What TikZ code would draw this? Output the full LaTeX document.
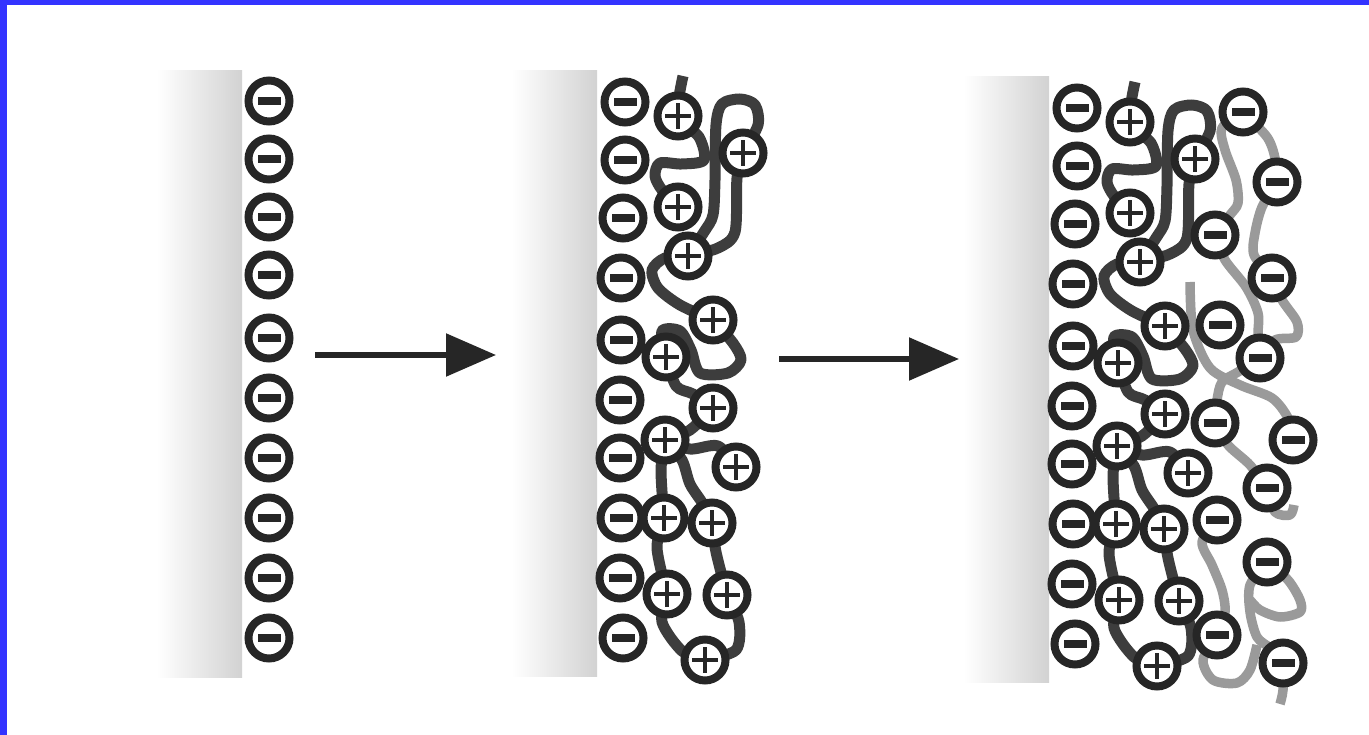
\documentclass[tikz,border=0pt]{standalone}
\usetikzlibrary{arrows.meta}
\definecolor{ink}{HTML}{262626}
\definecolor{chaindark}{HTML}{3D3D3D}
\definecolor{chainlight}{HTML}{9A9A9A}
\definecolor{frameblue}{HTML}{3333FF}
\definecolor{wallgrey}{HTML}{D2D2D2}
\pgfdeclarelayer{walls}
\pgfdeclarelayer{graychain}
\pgfdeclarelayer{darkchain}
\pgfsetlayers{walls,graychain,darkchain,main}

\tikzset{
  ring/.style={circle,draw=ink,line width=8pt,fill=white,minimum size=41pt,inner sep=0pt,outer sep=0pt},
  anion/.style={ring,path picture={\fill[ink]
      ([shift={(-11.5pt,-3.7pt)}]path picture bounding box.center) rectangle
      ([shift={(11.5pt,3.7pt)}]path picture bounding box.center);}},
  cation/.style={ring,path picture={
      \fill[ink] ([shift={(-13pt,-2.3pt)}]path picture bounding box.center) rectangle
                 ([shift={(13pt,2.3pt)}]path picture bounding box.center);
      \fill[ink] ([shift={(-2.3pt,-13pt)}]path picture bounding box.center) rectangle
                 ([shift={(2.3pt,13pt)}]path picture bounding box.center);}},
  wall/.style={left color=white,right color=wallgrey},
  darkpoly/.style={draw=chaindark,line width=11pt,line join=round},
  lightpoly/.style={draw=chainlight,line width=9.5pt,line join=round},
  bigarrow/.style={draw=ink,line width=5.5pt,-{Triangle[length=50pt,width=42pt]}},
}

% surface with its counter-ions and the adsorbed polycation (local frame of the middle panel)
\newcommand\coatedwall[1]{%
  \begin{pgfonlayer}{walls}
    \shade[wall] (512,71) rectangle (597,676);
  \end{pgfonlayer}
  \foreach \xx/\yy [count=\k] in {625/102,625/160,623/218,621/278,621/340,620/400,620/458,621/518,620/578,623/638}
    \node[anion] (#1m\k) at (\xx,\yy) {};
  \node[cation] (#1A) at (678,116) {};
  \node[cation] (#1B) at (743,153) {};
  \node[cation] (#1C) at (678,207) {};
  \node[cation] (#1D) at (688,256) {};
  \node[cation] (#1E) at (713,320) {};
  \node[cation] (#1F) at (666,357) {};
  \node[cation] (#1G) at (713,408) {};
  \node[cation] (#1H) at (665,440) {};
  \node[cation] (#1I) at (736,467) {};
  \node[cation] (#1J) at (664,518) {};
  \node[cation] (#1K) at (712,523) {};
  \node[cation] (#1L) at (667,594) {};
  \node[cation] (#1M) at (727,595) {};
  \node[cation] (#1N) at (705,660) {};
  \coordinate (#1tail) at (683,76);
  \begin{pgfonlayer}{darkchain}
    \draw[darkpoly] plot[smooth] coordinates {(#1tail) (#1A.center) (699,137) (704,160) (682,164) (660,163) (655,176) (662,190) (#1C.center)};
    \draw[darkpoly] plot[smooth] coordinates {(#1D.center) (704,232) (713,215) (715,180) (716,125) (722,104) (740,99) (755,105) (758,125) (#1B.center)};
    \draw[darkpoly] plot[smooth] coordinates {(#1B.center) (737,178) (735,232) (718,248) (#1D.center)};
    \draw[darkpoly] plot[smooth] coordinates {(#1D.center) (665,258) (652,270) (658,288) (680,305) (#1E.center)};
    \draw[darkpoly] plot[smooth] coordinates {(#1E.center) (733,343) (741,360) (728,373) (700,373) (691,350) (680,331) (662,331) (#1F.center)};
    \draw[darkpoly] plot[smooth] coordinates {(#1F.center) (676,386) (693,394) (#1G.center)};
    \draw[darkpoly] plot[smooth] coordinates {(#1G.center) (690,430) (#1H.center)};
    \draw[darkpoly] plot[smooth] coordinates {(#1H.center) (690,449) (718,446) (#1I.center)};
    \draw[darkpoly] plot[smooth] coordinates {(#1H.center) (661,470) (#1J.center)};
    \draw[darkpoly] plot[smooth] coordinates {(#1H.center) (682,460) (690,484) (703,504) (#1K.center)};
    \draw[darkpoly] plot[smooth] coordinates {(#1J.center) (657,548) (#1L.center)};
    \draw[darkpoly] plot[smooth] coordinates {(#1K.center) (716,552) (#1M.center)};
    \draw[darkpoly] plot[smooth] coordinates {(#1L.center) (662,622) (682,651) (#1N.center)};
    \draw[darkpoly] plot[smooth] coordinates {(#1M.center) (739,622) (736,650) (#1N.center)};
  \end{pgfonlayer}
}

\begin{document}
\begin{tikzpicture}[x=1pt,y=-1pt]
  \useasboundingbox (0,0) rectangle (1369,735);
  % page and frame
  \begin{pgfonlayer}{walls}
    \fill[white] (0,0) rectangle (1369,735);
    \fill[frameblue] (0,0) rectangle (1369,5);
    \fill[frameblue] (0,0) rectangle (7,735);
    % bare charged surface
    \shade[wall] (157,71) rectangle (242,677);
  \end{pgfonlayer}
  \foreach \yy [count=\k] in {101,159,217,275,338,398,458,518,578,638}
    \node[anion] (am\k) at (269,\yy) {};

  % arrows between the stages
  \coordinate (a1s) at (315,355);
  \coordinate (a1e) at (496,355);
  \draw[bigarrow] (a1s) -- (a1e);
  \coordinate (a2s) at (779,359);
  \coordinate (a2e) at (959,359);
  \draw[bigarrow] (a2s) -- (a2e);

  % surface after the polycation layer
  \coatedwall{b}

  % surface after the polyanion layer
  \begin{scope}[shift={(452,6)}]
    \coatedwall{c}
  \end{scope}

  \node[anion] (g1) at (1243,112) {};
  \node[anion] (g2) at (1277,182) {};
  \node[anion] (g3) at (1215,235) {};
  \node[anion] (g4) at (1272,278) {};
  \node[anion] (g5) at (1220,325) {};
  \node[anion] (g6) at (1260,358) {};
  \node[anion] (g7) at (1215,423) {};
  \node[anion] (g8) at (1293,440) {};
  \node[anion] (g9) at (1267,488) {};
  \node[anion] (g10) at (1217,520) {};
  \node[anion] (g11) at (1267,562) {};
  \node[anion] (g12) at (1217,635) {};
  \node[anion] (g13) at (1283,663) {};
  \coordinate (gtailA) at (1190,282);
  \coordinate (gtailB) at (1280,704);
  \begin{pgfonlayer}{graychain}
    \draw[lightpoly] plot[smooth] coordinates {(g1.center) (1267,137) (1275,158) (g2.center)};
    \draw[lightpoly] plot[smooth] coordinates {(g1.center) (1222,128) (1225,150) (1236,180) (1238,203) (1230,215) (g3.center)};
    \draw[lightpoly] plot[smooth] coordinates {(g2.center) (1262,207) (1255,233) (1254,255) (g4.center)};
    \draw[lightpoly] plot[smooth] coordinates {(g3.center) (1225,260) (1246,287) (1258,313) (1258,335) (g6.center)};
    \draw[lightpoly] plot[smooth] coordinates {(g4.center) (1282,300) (1297,322) (1296,337) (1275,340) (g6.center)};
    \draw[lightpoly] plot[smooth] coordinates {(gtailA) (1193,330) (1210,368) (1240,385) (1272,398) (1288,418) (g8.center)};
    \draw[lightpoly] plot[smooth] coordinates {(g6.center) (1238,372) (1222,382) (1217,400) (g7.center)};
    \draw[lightpoly] plot[smooth] coordinates {(g7.center) (1228,445) (1250,465) (g9.center)};
    \draw[lightpoly] plot[smooth] coordinates {(g9.center) (1275,512) (1290,515) (1294,505)};
    \draw[lightpoly] plot[smooth] coordinates {(g10.center) (1202,542) (1212,565) (1222,590) (1225,612) (g12.center)};
    \draw[lightpoly] plot[smooth] coordinates {(g11.center) (1250,585) (1250,612) (1257,637) (1270,648) (g13.center)};
    \draw[lightpoly] plot[smooth] coordinates {(g11.center) (1288,580) (1300,600) (1300,612) (1280,617) (1260,610) (1250,600)};
    \draw[lightpoly] plot[smooth] coordinates {(g12.center) (1203,660) (1213,680) (1237,683) (1250,670) (1257,645)};
    \draw[lightpoly] plot[smooth] coordinates {(g13.center) (1283,690) (gtailB)};
  \end{pgfonlayer}
\end{tikzpicture}
\end{document}
